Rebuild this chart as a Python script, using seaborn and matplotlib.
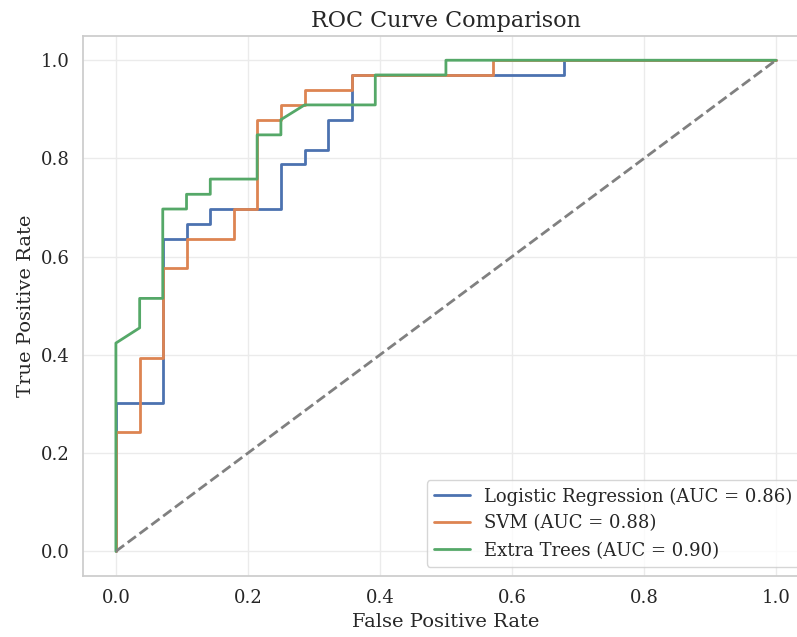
"""
ROC curve comparison of three classifiers.
"""

import matplotlib

matplotlib.use("Agg")
import matplotlib.pyplot as plt
import seaborn as sns

# ROC vertices
lr_fpr = [0, 0, 0.071, 0.071, 0.107, 0.107, 0.143, 0.143, 0.25, 0.25,
          0.286, 0.286, 0.321, 0.321, 0.357, 0.357, 0.679, 0.679, 1.0]
lr_tpr = [0, 0.303, 0.303, 0.636, 0.636, 0.667, 0.667, 0.697, 0.697, 0.788,
          0.788, 0.818, 0.818, 0.879, 0.879, 0.970, 0.970, 1.0, 1.0]

svm_fpr = [0, 0, 0.036, 0.036, 0.071, 0.071, 0.107, 0.107, 0.179, 0.179, 0.214,
           0.214, 0.25, 0.25, 0.286, 0.286, 0.357, 0.357, 0.571, 0.571, 1.0]
svm_tpr = [0, 0.242, 0.242, 0.394, 0.394, 0.576, 0.576, 0.636, 0.636, 0.697, 0.697,
           0.879, 0.879, 0.909, 0.909, 0.939, 0.939, 0.970, 0.970, 1.0, 1.0]

et_fpr = [0, 0, 0.036, 0.036, 0.071, 0.071, 0.107, 0.107, 0.143, 0.143,
          0.214, 0.214, 0.25, 0.25, 0.286, 0.393, 0.393, 0.5, 0.5, 1.0]
et_tpr = [0, 0.424, 0.455, 0.515, 0.515, 0.697, 0.697, 0.727, 0.727, 0.758,
          0.758, 0.848, 0.848, 0.879, 0.909, 0.909, 0.970, 0.970, 1.0, 1.0]

model_names = ["Logistic Regression", "SVM", "Extra Trees"]
auc_values = [0.86, 0.88, 0.90]

sns.set_theme(style="whitegrid", rc={"grid.color": "#ebebeb"})
plt.rcParams["font.family"] = ["DejaVu Serif"]

fig = plt.figure(figsize=(7.97, 6.37), dpi=100)
ax = fig.add_axes([0.104, 0.096, 0.911, 0.848])

palette = sns.color_palette("deep")
curves = [(lr_fpr, lr_tpr), (svm_fpr, svm_tpr), (et_fpr, et_tpr)]
for i, (fpr, tpr) in enumerate(curves):
    sns.lineplot(
        x=fpr,
        y=tpr,
        sort=False,
        estimator=None,
        color=palette[i],
        linewidth=2,
        label=f"{model_names[i]} (AUC = {auc_values[i]:.2f})",
        ax=ax,
    )

ax.plot([0, 1], [0, 1], linestyle="--", color="gray", linewidth=2)

ax.set_xlim(-0.05, 1.05)
ax.set_ylim(-0.05, 1.05)
ax.tick_params(labelsize=13)
ax.set_xlabel("False Positive Rate", fontsize=14)
ax.set_ylabel("True Positive Rate", fontsize=14)
ax.set_title("ROC Curve Comparison", fontsize=16)
ax.legend(loc="lower right", fontsize=13)

fig.savefig("out.png", dpi=100)
